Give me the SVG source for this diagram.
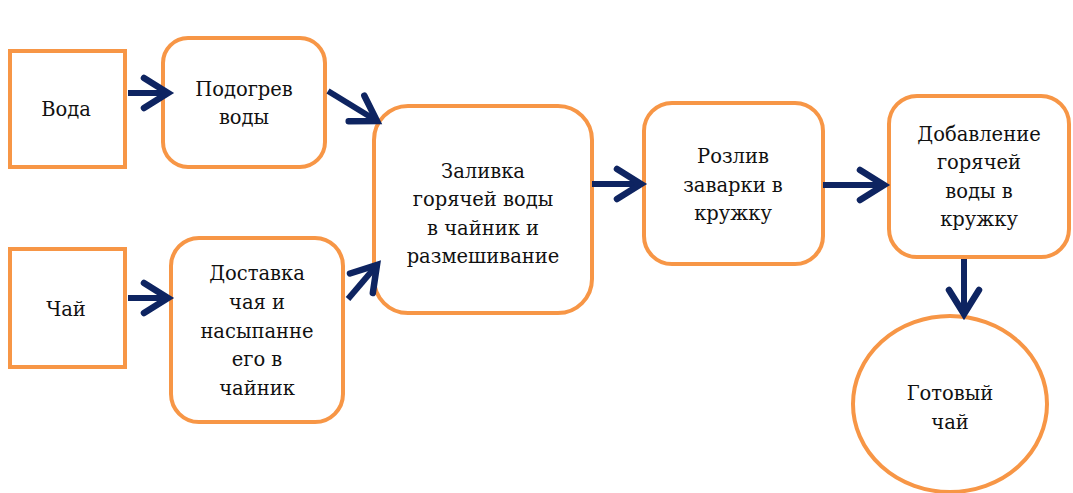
<svg xmlns="http://www.w3.org/2000/svg" width="1073" height="493" viewBox="0 0 1073 493">
<style>
.box{fill:#fff;stroke:#F79646;stroke-width:4}
.t{font-family:"DejaVu Serif","Liberation Serif",serif;font-size:19.5px;fill:#111;text-anchor:middle}
.c{stroke:#0E2461;stroke-width:6;fill:none;stroke-linecap:butt}
</style>
<defs>
<marker id="ah" markerUnits="userSpaceOnUse" viewBox="-30 -20 36 40" refX="0" refY="0" markerWidth="36" markerHeight="40" orient="auto" overflow="visible">
<path d="M-24,-15 L0,0 L-24,15" fill="none" stroke="#0E2461" stroke-width="6.5" stroke-linecap="round" stroke-linejoin="miter"/>
</marker>
</defs>
<rect width="1073" height="493" fill="#fff"/>
<g id="n-voda"><rect class="box" x="10" y="51" width="115" height="116"/><text class="t" x="66" y="116">Вода</text></g>
<g id="n-podogrev"><rect class="box" x="163" y="38" width="162" height="129" rx="25"/><text class="t" x="244" y="96">Подогрев</text><text class="t" x="244" y="124">воды</text></g>
<g id="n-chai"><rect class="box" x="10" y="249" width="115" height="118"/><text class="t" x="66" y="316">Чай</text></g>
<g id="n-dostavka"><rect class="box" x="171" y="238" width="172" height="184" rx="28"/><text class="t" x="257" y="280">Доставка</text><text class="t" x="257" y="309">чая и</text><text class="t" x="257" y="338">насыпанне</text><text class="t" x="257" y="366">его в</text><text class="t" x="257" y="395">чайник</text></g>
<g id="n-zalivka"><rect class="box" x="374" y="106" width="218" height="207" rx="34"/><text class="t" x="483" y="178">Заливка</text><text class="t" x="483" y="206">горячей воды</text><text class="t" x="483" y="235">в чайник и</text><text class="t" x="483" y="263">размешивание</text></g>
<g id="n-rozliv"><rect class="box" x="644" y="103" width="179" height="161" rx="28"/><text class="t" x="733" y="163">Розлив</text><text class="t" x="733" y="192">заварки в</text><text class="t" x="733" y="220">кружку</text></g>
<g id="n-dobavlenie"><rect class="box" x="889" y="96" width="180" height="161" rx="28"/><text class="t" x="979" y="141">Добавление</text><text class="t" x="979" y="169">горячей</text><text class="t" x="979" y="198">воды в</text><text class="t" x="979" y="226">кружку</text></g>
<g id="n-gotovy"><ellipse class="box" cx="950" cy="404" rx="97" ry="88"/><text class="t" x="950" y="400">Готовый</text><text class="t" x="950" y="429">чай</text></g>
<g id="connectors">
<line class="c" x1="128" y1="93" x2="168" y2="93" marker-end="url(#ah)"/>
<line class="c" x1="128" y1="298" x2="168" y2="298" marker-end="url(#ah)"/>
<line class="c" x1="328" y1="91" x2="377" y2="121" marker-end="url(#ah)"/>
<line class="c" x1="348" y1="299" x2="377" y2="265" marker-end="url(#ah)"/>
<line class="c" x1="592" y1="184" x2="641" y2="184" marker-end="url(#ah)"/>
<line class="c" x1="823" y1="185" x2="884" y2="185" marker-end="url(#ah)"/>
<line class="c" x1="964" y1="259" x2="964" y2="314" marker-end="url(#ah)"/>
</g>
</svg>
